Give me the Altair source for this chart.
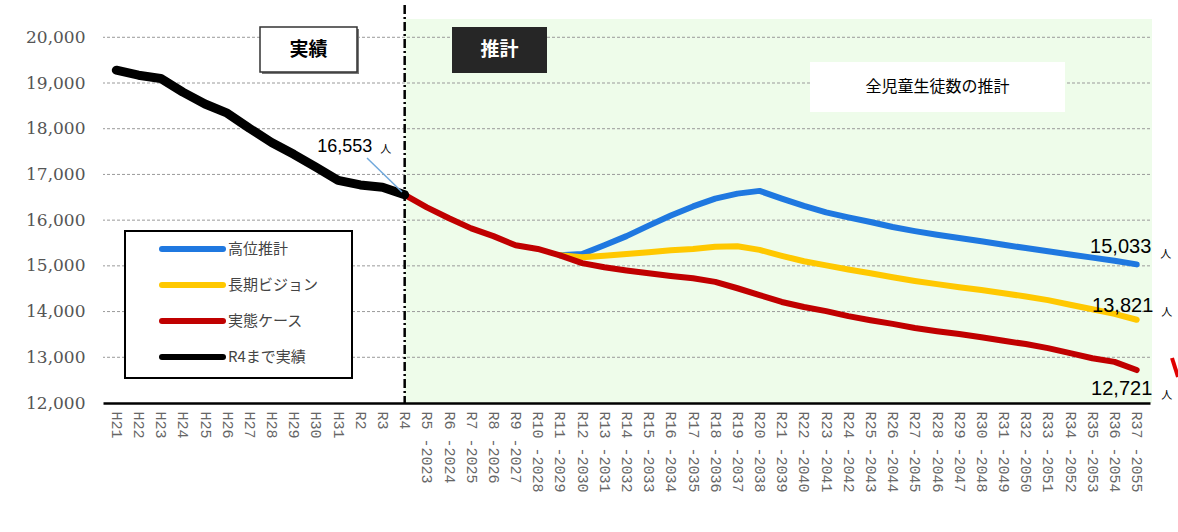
import altair as alt
import pandas as pd

# ---------------- data ----------------
hist_labels = ["H21", "H22", "H23", "H24", "H25", "H26", "H27", "H28", "H29", "H30",
               "H31", "R2", "R3", "R4"]
proj_labels = ["R5 -2023", "R6 -2024", "R7 -2025", "R8 -2026", "R9 -2027", "R10 -2028",
               "R11 -2029", "R12 -2030", "R13 -2031", "R14 -2032", "R15 -2033", "R16 -2034",
               "R17 -2035", "R18 -2036", "R19 -2037", "R20 -2038", "R21 -2039", "R22 -2040",
               "R23 -2041", "R24 -2042", "R25 -2043", "R26 -2044", "R27 -2045", "R28 -2046",
               "R29 -2047", "R30 -2048", "R31 -2049", "R32 -2050", "R33 -2051", "R34 -2052",
               "R35 -2053", "R36 -2054", "R37 -2055"]
categories = hist_labels + proj_labels

# R4まで実績 (H21..R4)
actual_values = [19280, 19170, 19100, 18800, 18540, 18340, 18010, 17700, 17440, 17160,
                 16870, 16770, 16720, 16553]
# 実態ケース (R4..R37)
jittai_values = [16553, 16280, 16040, 15820, 15650, 15450, 15370, 15230, 15060, 14970,
                 14900, 14840, 14780, 14730, 14650, 14510, 14360, 14210, 14100, 14010,
                 13900, 13810, 13730, 13640, 13570, 13510, 13440, 13360, 13290, 13200,
                 13090, 12980, 12900, 12721]
# 高位推計 (R11..R37)
koui_values = [15230, 15260, 15450, 15650, 15880, 16100, 16300, 16470, 16580, 16640,
               16470, 16310, 16170, 16060, 15960, 15850, 15760, 15680, 15610, 15540,
               15460, 15390, 15320, 15250, 15180, 15110, 15033]
# 長期ビジョン (R11..R37)
choki_values = [15230, 15190, 15220, 15260, 15300, 15340, 15370, 15420, 15430, 15350,
                15220, 15100, 15010, 14920, 14840, 14750, 14670, 14600, 14530, 14470,
                14400, 14330, 14250, 14150, 14050, 13950, 13821]

series_names = ["高位推計", "長期ビジョン", "実態ケース", "R4まで実績"]
series_colors = ["#1f78e0", "#ffc800", "#c00000", "#000000"]
y_ticks = [12000, 13000, 14000, 15000, 16000, 17000, 18000, 19000, 20000]

rows = []
def add(name, cats, vals):
    for c, v in zip(cats, vals):
        rows.append({"cat": c, "value": v, "series": name, "idx": categories.index(c)})

add("R4まで実績", hist_labels, actual_values)
add("実態ケース", ["R4"] + proj_labels, jittai_values)
add("高位推計", proj_labels[6:], koui_values)
add("長期ビジョン", proj_labels[6:], choki_values)
df = pd.DataFrame(rows)

W, H = 1047, 384
one = pd.DataFrame({"cat": ["R4"], "value": [actual_values[-1]]})

xscale = alt.Scale(type="point", domain=categories, padding=0.6)
yscale = alt.Scale(domain=[12000, 20400], nice=False, zero=False)
xaxis = alt.Axis(title=None, labelAngle=90, labelFont="Liberation Mono", labelFontSize=15,
                 labelColor="#666666", labelPadding=8, ticks=False, domainColor="#000000",
                 domainWidth=2.5, grid=False, labelOverlap=False)
yaxis = alt.Axis(title=None, values=y_ticks, format=",.0f", labelFont="DejaVu Serif",
                 labelFontSize=17, labelColor="#555555", labelPadding=18, ticks=False,
                 domain=False, grid=False)
X = alt.X("cat:O", scale=xscale, axis=xaxis)
Y = alt.Y("value:Q", scale=yscale, axis=yaxis)
color = alt.Color("series:N", scale=alt.Scale(domain=series_names, range=series_colors), legend=None)

bg = alt.Chart(one).mark_rect(color="#eefcea").encode(
    x=X, x2=alt.value(W + 2), y=alt.value(0), y2=alt.value(H))

grid = alt.Chart(pd.DataFrame({"value": y_ticks[1:]})).mark_rule(
    color="#9a9a9a", strokeDash=[3, 2], strokeWidth=1).encode(y=Y)

vline = alt.Chart(one).mark_rule(color="#000000", strokeWidth=2.5, strokeDash=[9, 3, 2, 3]).encode(
    x=X, y=alt.value(-14), y2=alt.value(H))

def line(name, width, cap="round"):
    return alt.Chart(df).transform_filter(alt.datum.series == name).mark_line(
        strokeWidth=width, strokeCap=cap, strokeJoin="round").encode(
        x=X, y=Y, color=color, order="idx:Q")

lines = [line("高位推計", 6), line("長期ビジョン", 6), line("実態ケース", 6),
         line("R4まで実績", 9)]

def endlabel(val, dx, dy, jdx, jdy):
    d = pd.DataFrame({"cat": ["R37 -2055"], "value": [val], "label": [f"{val:,}"]})
    t = alt.Chart(d).mark_text(font="Liberation Sans", fontSize=20, color="#000000",
                               dx=dx, dy=dy).encode(x=X, y=Y, text="label:N")
    j = alt.Chart(d).mark_text(font="Noto Sans CJK JP", fontSize=11, color="#000000",
                               dx=jdx, dy=jdy).encode(x=X, y=Y, text=alt.value("人"))
    return [t, j]

labels = []
labels += endlabel(koui_values[-1], -16, -17, 29, -9)
labels += endlabel(choki_values[-1], -14, -14, 30, -7)
labels += endlabel(jittai_values[-1], -15, 19, 30, 26)

d553 = pd.DataFrame({"cat": ["R4"], "value": [actual_values[-1]], "label": [f"{actual_values[-1]:,}"]})
lab553 = alt.Chart(d553).mark_text(font="Liberation Sans", fontSize=18, color="#000000",
                                   dx=-60, dy=-48).encode(x=X, y=Y, text="label:N")
jin553 = alt.Chart(d553).mark_text(font="Noto Sans CJK JP", fontSize=11, color="#000000",
                                   dx=-19, dy=-45).encode(x=X, y=Y, text=alt.value("人"))
leader = alt.Chart(one).mark_rule(color="#6fa8dc", strokeWidth=1.5).encode(
    x=alt.value(264), x2=alt.value(299), y=alt.value(139), y2=alt.value(173))

def box(x1, x2, y1, y2, fill, stroke=None, sw=0):
    kw = dict(fill=fill)
    if stroke:
        kw.update(stroke=stroke, strokeWidth=sw)
    return alt.Chart(one).mark_rect(**kw).encode(
        x=alt.value(x1), x2=alt.value(x2), y=alt.value(y1), y2=alt.value(y2))

def label(x, y, text, size, colr, weight="normal", font="Noto Sans CJK JP", align="center"):
    return alt.Chart(one).mark_text(font=font, fontSize=size, color=colr, fontWeight=weight,
                                    align=align, baseline="middle").encode(
        x=alt.value(x), y=alt.value(y), text=alt.value(text))

annots = [
    box(159, 256, 10, 55, "#777777"),
    box(157, 254, 8, 53, "#ffffff", "#333333", 1.5),
    label(205.5, 31, "実績", 19, "#000000", "bold"),
    box(349, 444, 8, 54, "#262626"),
    label(396.5, 31, "推計", 19, "#ffffff", "bold"),
    box(707, 962, 43, 93, "#ffffff"),
    label(834.5, 68, "全児童生徒数の推計", 16, "#000000"),
    alt.Chart(one).mark_rule(color="#e00000", strokeWidth=4).encode(
        x=alt.value(1069), x2=alt.value(1075), y=alt.value(339), y2=alt.value(358)),
]

main = alt.layer(bg, grid, vline, *lines, *labels, lab553, jin553, leader, *annots)

# manual legend
leg_df = pd.DataFrame({"series": series_names})
leg_y = alt.Y("series:N", scale=alt.Scale(type="point", domain=series_names, range=[230, 338], padding=0), axis=None)
leg_box = alt.Chart(one).mark_rect(fill="#ffffff", stroke="#000000", strokeWidth=2).encode(
    x=alt.value(22), x2=alt.value(249), y=alt.value(212), y2=alt.value(359))
leg_sw = alt.Chart(leg_df).mark_rule(strokeWidth=6, strokeCap="round").encode(
    x=alt.value(59), x2=alt.value(120), y=leg_y, color=color)
leg_tx = alt.Chart(leg_df).mark_text(font="Noto Sans CJK JP", fontSize=15, color="#444444",
                                     align="left", baseline="middle").encode(
    x=alt.value(125), y=leg_y, text="series:N")
legend = alt.layer(leg_box, leg_sw, leg_tx)

chart = alt.layer(main, legend).resolve_scale(y="independent").properties(
    width=W, height=H,
    autosize=alt.AutoSizeParams(type="none"),
    padding={"left": 103, "top": 19, "right": 28, "bottom": 129},
    background="#ffffff",
).configure_view(stroke=None)

chart.save("out.html", embed_options={"renderer": "svg", "actions": False})
